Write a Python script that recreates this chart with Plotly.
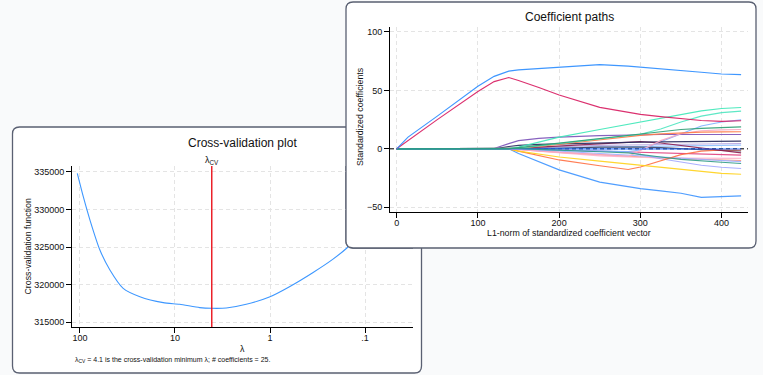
import numpy as np
import plotly.graph_objects as go

# ---------------- data: cross-validation plot ----------------
cv_lambda = [106.7, 92.3, 78.5, 61.7, 48.4, 35.1, 23.4, 13.3, 8.91, 5.50, 4.1,
             2.88, 1.78, 1.0, 0.624, 0.355, 0.219, 0.155, 0.10, 0.063, 0.040]
cv_value = [334780, 331680, 328580, 324600, 321950, 319510, 318400, 317610, 317390,
            316950, 316860, 316900, 317390, 318400, 319730, 321590, 323360, 324870,
            327300, 330000, 333000]
lambda_cv = 4.1
n_coef = 25
lam_tickvals = [100, 10, 1, 0.1]
lam_ticktext = ["100", "10", "1", ".1"]
cv_tickvals = [315000, 320000, 325000, 330000, 335000]

# ---------------- data: coefficient paths ----------------
l1norm = [0, 14, 50, 100, 120, 138, 150, 175, 200, 250, 285, 300, 325, 350, 375, 400, 424]
coef_blue_top = [0, 10, 28, 53.5, 62, 66.5, 67.5, 68.5, 69.5, 72, 70.8, 70, 68.5, 67, 65.5, 64, 63.5]
coef_red = [0, 7, 25, 49, 57.5, 61, 58.5, 52.5, 46, 35.5, 31, 29.5, 27.5, 26, 24.2, 23.5, 24]
coef_mint1 = [0, 0, 0, 0, 0, 0, 1.5, 5.5, 10, 16.5, 21, 23, 26, 29.5, 32.5, 34.5, 35.4]
coef_mint2 = [0, 0, 0, 0, 0, 0, 0.5, 2.5, 4.5, 8, 11, 12.5, 17, 23, 28, 31, 32.3]
coef_green1 = [0, 0, 0, 0, 0, 0, 1, 3, 5, 9, 11.5, 12.5, 14.5, 16.5, 17.5, 18.3, 18.8]
coef_orange1 = [0, 0, 0, 0, 0, 0, 0.5, 2, 4, 8, 10.5, 11.5, 12.8, 13.8, 14.3, 14.5, 14.6]
coef_pink1 = [0, 0, 0, 0, 0, 0, -0.5, -2, -3, -5, -6.5, -1.5, 7, 13, 15.5, 16.2, 16.5]
coef_purple = [0, 0, 0, 0, 0.3, 4.5, 7, 9, 10, 11.3, 12, 12.2, 12.3, 12.3, 12.3, 12.3, 12.3]
coef_navy = [0, 0, 0, 0, 0, 2, 3, 3.8, 4.3, 5, 5.5, 5.8, 6, 6.3, 6.5, 6.6, 6.6]
coef_maroon = [0, 0, 0, 0, 0, 0, 0.3, 1.5, 2.5, 4.6, 6, 6.2, 5, 3, 0.5, -1.5, -3.4]
coef_lightblue = [0, 0, 0, 0, 0, 0, -0.3, -1, -1.5, -2, -2.3, -1, 6, 13, 19.5, 23, 24.8]
coef_gold = [0, 0, 0, 0, 0, 0, -2, -4.5, -7, -10.5, -13, -14, -16, -17.5, -19.5, -21, -21.7]
coef_orange2 = [0, 0, 0, 0, 0, 0, -2, -5.5, -9.5, -14.5, -17.7, -15.5, -10.5, -5, -2, -1, -1]
coef_blue_low = [0, 0, 0, 0, 0, 0, -4, -11, -18, -28.5, -32.5, -34, -36, -38, -41.5, -41, -40.3]
coef_peri1 = [0, 0, 0, 0, 0, 0, -0.3, -1, -1.5, -2, -2.5, -5, -8.5, -11.5, -14, -15.8, -16.8]
coef_teal2 = [0, 0, 0, 0, 0, 0, 0.3, -0.5, -1, -2.5, -3.5, -5, -7, -9, -10.5, -11.5, -12.5]
coef_peri2 = [0, 0, 0, 0, 0, 0, 0, -1, -2, -4, -5.5, -6, -7, -8, -9, -10, -11]
coef_hotpink = [0, 0, 0, 0, 0, 0, 0, -0.5, -1, -2, -2.7, -3, -3.5, -4, -4.5, -5, -5.4]
coef_brightblue = [0, 0, 0, 0, 0, 0, 0, -0.1, -0.1, -0.1, -0.1, -0.1, -0.1, -0.1, -0.1, -0.1, -0.1]
coef_slate = [0, 0, 0, 0, 0, 0, 0, 0.3, 0.5, 1.5, 1.8, 1.5, 1, 0, -0.7, -1.3, -1.7]
coef_lavender = [0, 0, 0, 0, 0, 0, 0.5, 1.2, 2, 3, 3.3, 3.5, 3.8, 4, 4.3, 4.5, 4.6]
coef_sky = [0, 0, 0, 0, 0, 0, 0, 0.5, 1, 1.5, 2, 2, 2.3, 2.6, 2.9, 3.1, 3.2]
coef_pink2 = [0, 0, 0, 0, 0, 0, -0.5, -2, -3.5, -6, -7, -7.5, -7.8, -8, -8.1, -8.2, -8.2]
coef_salmon = [0, 0, 0, 0, 0, 0, -0.5, -1.5, -3, -5, -6.5, -7, -7.8, -8.5, -9.2, -9.7, -10]
l1_tickvals = [0, 100, 200, 300, 400]
coef_tickvals = [-50, 0, 50, 100]

coef_series = [
    (coef_salmon, "#ff9575"), (coef_pink2, "#ffb5cc"), (coef_sky, "#8fc0ff"),
    (coef_lavender, "#b7a4e0"), (coef_slate, "#3b4262"), (coef_hotpink, "#e0407e"),
    (coef_peri2, "#9fb0ff"), (coef_peri1, "#a3a8ff"),
    (coef_blue_low, "#3d94ff"), (coef_orange2, "#ff7043"), (coef_gold, "#ffd21a"),
    (coef_lightblue, "#7fb2ff"), (coef_maroon, "#8a1c4c"), (coef_navy, "#262a5e"),
    (coef_purple, "#7b52b9"), (coef_pink1, "#f7a8c4"), (coef_orange1, "#ff7a45"),
    (coef_mint2, "#4ee6c0"), (coef_mint1, "#3de8b8"),
    (coef_brightblue, "#1463ff"), (coef_green1, "#2e9e74"), (coef_teal2, "#2f9c86"),
    (coef_red, "#d81b60"), (coef_blue_top, "#2a8cff"),
]

# ---------------- layout geometry (pixels) ----------------
W, H = 763, 375
L_plot = (72, 166, 413, 327)
R_plot = (390, 26.7, 748, 212.3)
L_panel = (12.5, 127, 421.5, 373)
R_panel = (346, 2, 756, 248)
RADIUS = 7
lx_range = [2.084, -1.505]
ly_range = [314376, 335757]
rx_range = [-8.2, 432.5]
ry_range = [-54.3, 104.5]

FONT = "Liberation Sans, Arial, Helvetica, sans-serif"
TXT = "#111111"
BORDER = "#5a6072"
GRID = "#e4e4e4"
BG = "#f9fafb"


def PX(px):
    return px / W


def PY(py):
    return 1 - py / H


def dom_x(b):
    return [PX(b[0]), PX(b[2])]


def dom_y(b):
    return [PY(b[3]), PY(b[1])]


def rr_path(b, r):
    x0, y0, x1, y1 = b
    return (f"M {PX(x0+r)},{PY(y0)} L {PX(x1-r)},{PY(y0)} Q {PX(x1)},{PY(y0)} {PX(x1)},{PY(y0+r)} "
            f"L {PX(x1)},{PY(y1-r)} Q {PX(x1)},{PY(y1)} {PX(x1-r)},{PY(y1)} "
            f"L {PX(x0+r)},{PY(y1)} Q {PX(x0)},{PY(y1)} {PX(x0)},{PY(y1-r)} "
            f"L {PX(x0)},{PY(y0+r)} Q {PX(x0)},{PY(y0)} {PX(x0+r)},{PY(y0)} Z")


def rr_points(b, r, n=10):
    x0, y0, x1, y1 = b
    t = np.linspace(0, 1, n)

    def q(p0, c, p1):
        return [((1-s)**2*p0[0] + 2*(1-s)*s*c[0] + s**2*p1[0],
                 (1-s)**2*p0[1] + 2*(1-s)*s*c[1] + s**2*p1[1]) for s in t]
    pts = []
    pts += q((x1-r, y0), (x1, y0), (x1, y0+r))
    pts += q((x1, y1-r), (x1, y1), (x1-r, y1))
    pts += q((x0+r, y1), (x0, y1), (x0, y1-r))
    pts += q((x0, y0+r), (x0, y0), (x0+r, y0))
    pts.append(pts[0])
    return pts


def to_left_data(px, py):
    fx = (px - L_plot[0]) / (L_plot[2] - L_plot[0])
    fy = (py - L_plot[1]) / (L_plot[3] - L_plot[1])
    lx = 10 ** (lx_range[0] + fx * (lx_range[1] - lx_range[0]))
    ly = ly_range[1] - fy * (ly_range[1] - ly_range[0])
    return lx, ly


fig = go.Figure()

# left: cross-validation curve
fig.add_trace(go.Scatter(x=cv_lambda, y=cv_value, mode="lines", xaxis="x", yaxis="y",
                         line=dict(color="#3d97ff", width=1.1, shape="spline", smoothing=0.6),
                         hoverinfo="skip", showlegend=False))
fig.add_trace(go.Scatter(x=[lambda_cv, lambda_cv], y=ly_range, mode="lines", xaxis="x", yaxis="y",
                         line=dict(color="#e8000b", width=1.3), hoverinfo="skip", showlegend=False))
# mask: the right panel sits on top of the left plot area
cover = [to_left_data(px, py) for px, py in rr_points(R_panel, RADIUS)]
fig.add_trace(go.Scatter(x=[c[0] for c in cover], y=[c[1] for c in cover], mode="lines",
                         xaxis="x", yaxis="y", fill="toself", fillcolor="white",
                         line=dict(color=BORDER, width=1.3), hoverinfo="skip", showlegend=False))

# right: zero reference line and coefficient paths
fig.add_trace(go.Scatter(x=rx_range, y=[0, 0], mode="lines", xaxis="x2", yaxis="y2",
                         line=dict(color="black", width=1, dash="4px,3px"),
                         hoverinfo="skip", showlegend=False))
for vals, col in coef_series:
    fig.add_trace(go.Scatter(x=l1norm, y=vals, mode="lines", xaxis="x2", yaxis="y2",
                             line=dict(color=col, width=1.15), opacity=0.9,
                             hoverinfo="skip", showlegend=False))

axis_common = dict(showline=True, linecolor="black", linewidth=1, ticks="outside", ticklen=5,
                   tickwidth=1, tickcolor="black", showgrid=True, gridcolor=GRID, gridwidth=1,
                   griddash="4px,3px", zeroline=False, automargin=False,
                   tickfont=dict(family=FONT, size=9, color=TXT))

shapes = [
    dict(type="path", path=rr_path(L_panel, RADIUS), xref="paper", yref="paper",
         fillcolor="white", line=dict(color=BORDER, width=1.3), layer="below"),
    dict(type="path", path=rr_path(R_panel, RADIUS), xref="paper", yref="paper",
         fillcolor="white", line=dict(color=BORDER, width=1.3), layer="below"),
]


def ann(text, px, py, size, xanchor="center", angle=0):
    return dict(text=text, x=PX(px), y=PY(py), xref="paper", yref="paper", showarrow=False,
                xanchor=xanchor, yanchor="middle", textangle=angle,
                font=dict(family=FONT, size=size, color=TXT))


annotations = [
    ann("Cross-validation plot", 242, 143, 12),
    ann("Coefficient paths", 569, 17.5, 12),
    ann("Cross-validation function", 27, 246.5, 8.8, angle=-90),
    ann("λ", 242, 348.5, 8.8),
    ann("Standardized coefficients", 360, 117, 8.8, angle=-90),
    ann("L1-norm of standardized coefficient vector", 569, 233.3, 8.8),
    ann(f"λ<sub>CV</sub> = {lambda_cv} is the cross-validation minimum λ; # coefficients = {n_coef}.",
        72.5, 360, 7, xanchor="left"),
    ann("λ<sub>CV</sub>", 211.5, 160.5, 9),
]

fig.update_layout(
    width=W, height=H, margin=dict(l=0, r=0, t=0, b=0),
    paper_bgcolor=BG, plot_bgcolor="rgba(0,0,0,0)",
    shapes=shapes, annotations=annotations, showlegend=False,
    xaxis=dict(domain=dom_x(L_plot), anchor="y", type="log", range=lx_range,
               tickvals=lam_tickvals, ticktext=lam_ticktext, ticklabelstandoff=-3, **axis_common),
    yaxis=dict(domain=dom_y(L_plot), anchor="x", range=ly_range,
               tickvals=cv_tickvals, tickformat="d", **axis_common),
    xaxis2=dict(domain=dom_x(R_plot), anchor="y2", range=rx_range,
                tickvals=l1_tickvals, ticklabelstandoff=-3, **axis_common),
    yaxis2=dict(domain=dom_y(R_plot), anchor="x2", range=ry_range,
                tickvals=coef_tickvals, **axis_common),
)

fig.write_html("out.html", config={"displayModeBar": False},
               post_script="document.body.style.margin='0';")
